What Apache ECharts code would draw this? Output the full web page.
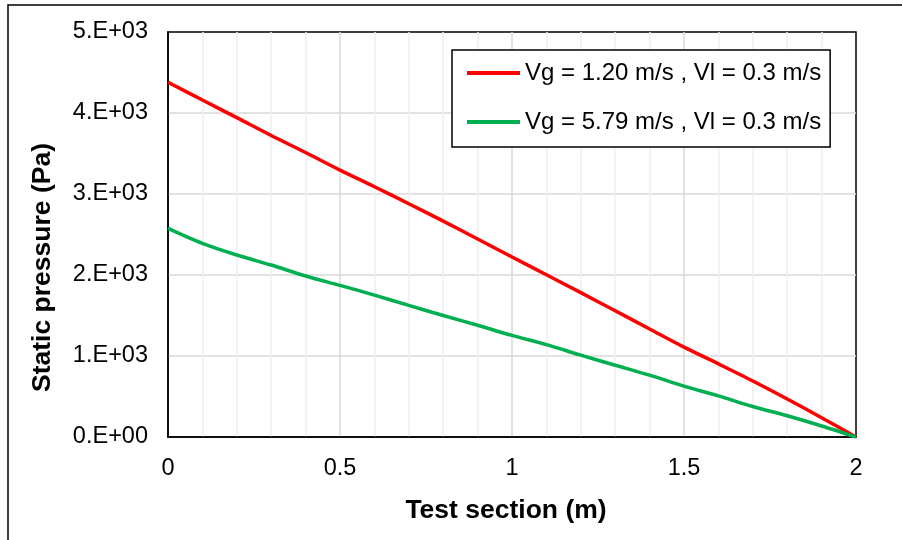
<!DOCTYPE html>
<html>
<head>
<meta charset="utf-8">
<script src="https://cdn.jsdelivr.net/npm/echarts@6/dist/echarts.min.js"></script>
<style>
  html, body { margin: 0; padding: 0; background: #fff; }
  #static-pressure { width: 902px; height: 540px; }
</style>
</head>
<body>
<div id="static-pressure"></div>
<script>
// 测试段位置 (m)
const testSection = [0, 0.1, 0.2, 0.3, 0.4, 0.5, 0.6, 0.7, 0.8, 0.9, 1.0,
  1.1, 1.2, 1.3, 1.4, 1.5, 1.6, 1.7, 1.8, 1.9, 2.0];
// Vg = 1.20 m/s
const pressureLowVg = [4380, 4160, 3943, 3722, 3512, 3295, 3090, 2880, 2665, 2445, 2222,
  2003, 1782, 1558, 1334, 1110, 903, 692, 470, 238, 0];
// Vg = 5.79 m/s
const pressureHighVg = [2576, 2391, 2247, 2123, 1988, 1872, 1752, 1625, 1500, 1380, 1254,
  1140, 1010, 886, 763, 628, 508, 376, 262, 136, 0];
const seriesNames = ['Vg = 1.20 m/s , Vl = 0.3 m/s', 'Vg = 5.79 m/s , Vl = 0.3 m/s'];
const xTickLabels = ['0', '0.5', '1', '1.5', '2'];
const yTickLabels = ['0.E+00', '1.E+03', '2.E+03', '3.E+03', '4.E+03', '5.E+03'];

const font = 'Liberation Sans, Arial, sans-serif';

function toPairs(ys) {
  return testSection.map((x, i) => [x, ys[i]]);
}

/**
 * 画静压沿测试段分布图
 */
function drawPressure() {
  const chartOpts = {
    animation: false,
    backgroundColor: '#fff',
    textStyle: { fontFamily: font },
    graphic: [{
      type: 'rect',
      shape: { x: 8, y: 5, width: 1000, height: 1000 },
      style: { fill: 'none', stroke: '#000', lineWidth: 1.5 },
      silent: true
    }],
    grid: {
      left: 168,
      right: 46,
      top: 32,
      bottom: 103,
      show: true,
      borderColor: '#000',
      borderWidth: 1.5
    },
    legend: {
      orient: 'vertical',
      left: 452,
      top: 50,
      padding: [11, 9, 13, 15],
      itemGap: 25,
      itemWidth: 53,
      itemHeight: 4,
      icon: 'rect',
      borderColor: '#000',
      borderWidth: 1.5,
      backgroundColor: '#fff',
      textStyle: { fontFamily: font, fontSize: 24, lineHeight: 24, color: '#000' },
      data: seriesNames
    },
    xAxis: {
      type: 'value',
      min: 0,
      max: 2,
      interval: 0.5,
      name: 'Test section (m)',
      nameLocation: 'middle',
      nameGap: 60,
      nameTextStyle: {
        fontFamily: font, fontSize: 26.5, fontWeight: 'bold', color: '#000',
        padding: [0, 12, 0, 0]
      },
      axisLine: { show: true, lineStyle: { color: '#000', width: 1.5 } },
      axisTick: { show: false },
      minorTick: { show: false, splitNumber: 5 },
      axisLabel: {
        margin: 20,
        fontFamily: font,
        fontSize: 23.5,
        color: '#000',
        formatter: v => xTickLabels[Math.round(v / 0.5)]
      },
      splitLine: {
        show: true, showMinLine: false, showMaxLine: false,
        lineStyle: { color: '#d9d9d9', width: 1.5 }
      },
      minorSplitLine: { show: true, lineStyle: { color: '#efefef', width: 1.5 } }
    },
    yAxis: {
      type: 'value',
      min: 0,
      max: 5000,
      interval: 1000,
      name: 'Static pressure (Pa)',
      nameLocation: 'middle',
      nameGap: 112,
      nameRotate: 90,
      nameTextStyle: {
        fontFamily: font, fontSize: 26.5, fontWeight: 'bold', color: '#000',
        padding: [0, 66, 0, 0]
      },
      axisLine: { show: true, lineStyle: { color: '#000', width: 1.5 } },
      axisTick: { show: false },
      axisLabel: {
        margin: 20,
        fontFamily: font,
        fontSize: 23.5,
        color: '#000',
        formatter: v => yTickLabels[Math.round(v / 1000)]
      },
      splitLine: {
        show: true, showMinLine: false, showMaxLine: false,
        lineStyle: { color: '#d9d9d9', width: 1.5 }
      }
    },
    series: [
      {
        name: seriesNames[0],
        type: 'line',
        smooth: 0.3,
        showSymbol: false,
        color: '#ff0000',
        lineStyle: { width: 3.5, color: '#ff0000' },
        data: toPairs(pressureLowVg)
      },
      {
        name: seriesNames[1],
        type: 'line',
        smooth: 0.3,
        showSymbol: false,
        color: '#00b050',
        lineStyle: { width: 3.5, color: '#00b050' },
        data: toPairs(pressureHighVg)
      }
    ]
  };

  const chart = echarts.init(document.getElementById('static-pressure'));
  chart.setOption(chartOpts);
}

drawPressure();
</script>
</body>
</html>
